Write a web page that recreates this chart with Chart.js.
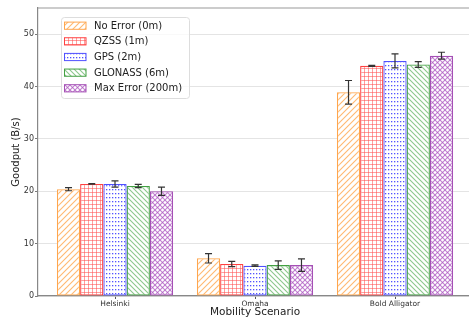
<!DOCTYPE html>
<html>
<head>
<meta charset="utf-8">
<script src="https://cdn.jsdelivr.net/npm/chart.js@4/dist/chart.umd.min.js"></script>
<style>
html,body{margin:0;padding:0;background:#fff;overflow:hidden;}
#wrap{width:474px;height:320px;}
</style>
</head>
<body>
<div id="wrap"><canvas id="c" width="474" height="320"></canvas></div>
<script>
// ---- data ----
const categories = ["Helsinki", "Omaha", "Bold Alligator"];
const seriesNames = ["No Error (0m)", "QZSS (1m)", "GPS (2m)", "GLONASS (6m)", "Max Error (200m)"];
const noError   = [20.4, 7.2, 38.9];
const qzss      = [21.4, 6.1, 43.95];
const gps       = [21.4, 5.8, 44.9];
const glonass   = [21.0, 5.9, 44.2];
const maxError  = [20.0, 5.9, 45.9];
const noErrorErr  = [0.3, 0.9, 2.25];
const qzssErr     = [0.05, 0.5, 0.1];
const gpsErr      = [0.6, 0.15, 1.35];
const glonassErr  = [0.3, 0.8, 0.55];
const maxErrorErr = [0.8, 1.2, 0.65];
const yTicks = [0, 10, 20, 30, 40, 50];

const FONT = "'DejaVu Sans', 'Liberation Sans', sans-serif";

// ---- hatch patterns ----
function makePattern(kind, color) {
  const c = document.createElement('canvas');
  const ctx = c.getContext('2d');
  let w = 6, h = 6;
  if (kind === 'plus') { w = 4; h = 4; }
  if (kind === 'dot') { w = 3; h = 4; }
  if (kind === 'back') { w = 5; h = 5; }
  if (kind === 'cross') { w = 5; h = 5; }
  c.width = w; c.height = h;
  ctx.fillStyle = '#fff';
  ctx.fillRect(0, 0, w, h);
  ctx.strokeStyle = color; ctx.fillStyle = color; ctx.lineWidth = 1.1;
  function line(x1, y1, x2, y2) { ctx.beginPath(); ctx.moveTo(x1, y1); ctx.lineTo(x2, y2); ctx.stroke(); }
  if (kind === 'slash') {
    line(-1, w + 1, w + 1, -1); line(-1, 1, 1, -1); line(w - 1, w + 1, w + 1, w - 1);
  } else if (kind === 'back') {
    line(-1, -1, w + 1, w + 1); line(w - 1, -1, w + 1, 1); line(-1, w - 1, 1, w + 1);
  } else if (kind === 'cross') {
    line(-1, w + 1, w + 1, -1); line(-1, 1, 1, -1); line(w - 1, w + 1, w + 1, w - 1);
    line(-1, -1, w + 1, w + 1); line(w - 1, -1, w + 1, 1); line(-1, w - 1, 1, w + 1);
  } else if (kind === 'plus') {
    ctx.fillRect(0, 0, 1, h); ctx.fillRect(0, 0, w, 1);
  } else if (kind === 'dot') {
    ctx.fillRect(1, 1, 1.3, 1.3);
  }
  return ctx.createPattern(c, 'repeat');
}

const styles = [
  { border: '#ffa64d', hatch: makePattern('slash', '#ffb870') },
  { border: '#ff4040', hatch: makePattern('plus',  'rgba(255,80,80,0.55)') },
  { border: '#5050ff', hatch: makePattern('dot',   'rgba(40,40,255,0.8)') },
  { border: '#43a043', hatch: makePattern('back',  'rgba(100,180,100,0.75)') },
  { border: '#a550b5', hatch: makePattern('cross', 'rgba(175,90,195,0.75)') }
];

const values = [noError, qzss, gps, glonass, maxError];
const errors = [noErrorErr, qzssErr, gpsErr, glonassErr, maxErrorErr];

const datasets = seriesNames.map((name, i) => ({
  label: name,
  data: values[i].map((v, j) => ({ x: j, y: v })),
  errs: errors[i],
  backgroundColor: styles[i].hatch,
  borderColor: styles[i].border,
  borderWidth: 1.3,
  borderSkipped: false,
  categoryPercentage: 0.83,
  barPercentage: 1.0
}));

// ---- plugins ----
const extras = {
  id: 'extras',
  afterDatasetsDraw(chart) {
    const ctx = chart.ctx, ys = chart.scales.y;
    ctx.save();
    ctx.strokeStyle = '#333';
    ctx.lineWidth = 1.2;
    chart.data.datasets.forEach((ds, i) => {
      const meta = chart.getDatasetMeta(i);
      meta.data.forEach((el, j) => {
        const v = ds.data[j].y, e = ds.errs[j];
        const y1 = ys.getPixelForValue(v - e), y2 = ys.getPixelForValue(v + e);
        const x = el.x;
        ctx.beginPath();
        ctx.moveTo(x, y1); ctx.lineTo(x, y2);
        ctx.moveTo(x - 3.5, y1); ctx.lineTo(x + 3.5, y1);
        ctx.moveTo(x - 3.5, y2); ctx.lineTo(x + 3.5, y2);
        ctx.stroke();
      });
    });
    ctx.restore();
  },
  afterDraw(chart) {
    const ctx = chart.ctx, a = chart.chartArea;
    ctx.save();
    // top spine
    ctx.strokeStyle = '#999';
    ctx.lineWidth = 1.2;
    ctx.beginPath(); ctx.moveTo(a.left, a.top); ctx.lineTo(a.right, a.top); ctx.stroke();
    // legend
    const lx = 61, ly = 17, lw = 128, lh = 81;
    ctx.fillStyle = 'rgba(255,255,255,0.8)';
    ctx.strokeStyle = '#dddddd';
    ctx.lineWidth = 1;
    ctx.beginPath();
    ctx.roundRect(lx + 0.5, ly + 0.5, lw, lh, 3);
    ctx.fill(); ctx.stroke();
    ctx.font = '10px ' + FONT;
    ctx.textBaseline = 'middle';
    ctx.textAlign = 'left';
    chart.data.datasets.forEach((ds, i) => {
      const cy = 25.7 + i * 15.65;
      ctx.fillStyle = ds.backgroundColor;
      ctx.fillRect(64, cy - 3.6, 22, 7.2);
      ctx.strokeStyle = ds.borderColor;
      ctx.lineWidth = 1;
      ctx.strokeRect(64.5, cy - 3.6, 21.5, 7.2);
      ctx.fillStyle = '#222';
      ctx.fillText(ds.label, 94, cy + 0.5);
    });
    ctx.restore();
  }
};

new Chart(document.getElementById('c'), {
  type: 'bar',
  data: { datasets },
  plugins: [extras],
  options: {
    responsive: false,
    animation: false,
    events: [],
    layout: { padding: { top: 8, right: 2, left: 0, bottom: 0 } },
    plugins: { legend: { display: false }, tooltip: { enabled: false } },
    scales: {
      x: {
        type: 'linear',
        min: -0.55, max: 2.55,
        offset: false,
        afterBuildTicks(s) { s.ticks = categories.map((c, i) => ({ value: i })); },
        afterFit(s) { s.height = 24; },
        ticks: {
          callback: (v) => categories[v] !== undefined ? categories[v] : '',
          font: { family: FONT, size: 7.5 },
          color: '#333',
          padding: 1,
          maxRotation: 0, autoSkip: false
        },
        grid: { display: true, drawOnChartArea: false, drawTicks: true, tickLength: 3, tickColor: '#555', offset: false },
        border: { color: '#888', width: 1.2 },
        title: { display: true, text: 'Mobility Scenario', font: { family: FONT, size: 10.5 }, color: '#222', padding: { top: 0, bottom: 1 } }
      },
      y: {
        min: 0, max: 55,
        afterBuildTicks(s) { s.ticks = yTicks.map(v => ({ value: v })); },
        afterFit(s) { s.width = 38; },
        ticks: { font: { family: FONT, size: 8 }, color: '#333', padding: 1 },
        grid: { color: '#dddddd', lineWidth: 0.8, tickLength: 3, tickColor: '#555' },
        border: { color: '#888', width: 1.2 },
        title: { display: true, text: 'Goodput (B/s)', font: { family: FONT, size: 10 }, color: '#222', padding: { top: 10, bottom: 0 } }
      }
    }
  }
});
</script>
</body>
</html>
